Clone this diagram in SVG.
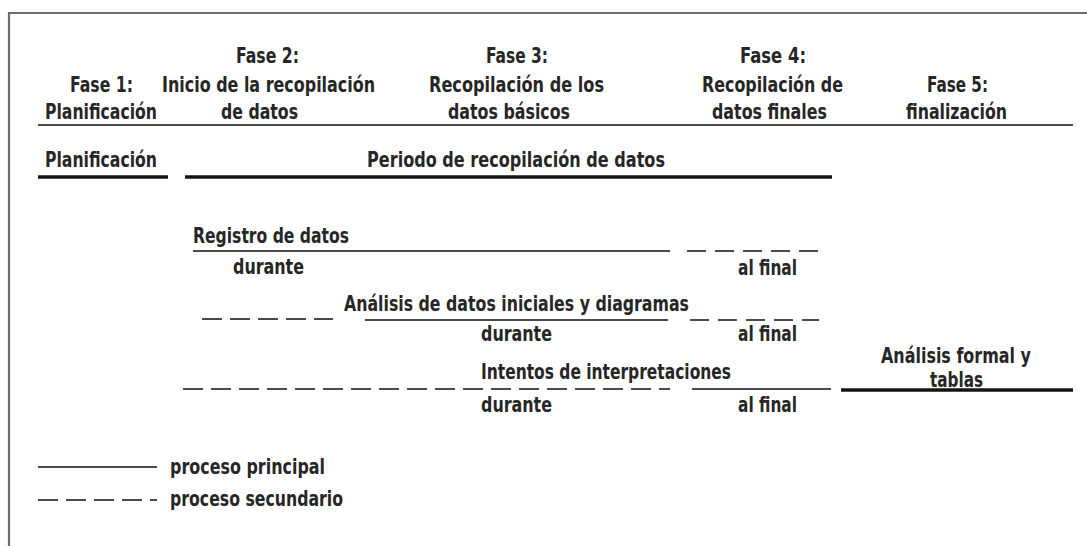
<svg xmlns="http://www.w3.org/2000/svg" width="1087" height="546" viewBox="0 0 1087 546">
<style>
text{font-family:"DejaVu Sans Condensed","Liberation Sans",sans-serif;font-size:22px;font-weight:bold;fill:#262626}
.thin{stroke:#4a4a4a;stroke-width:2;fill:none}
.dash{stroke:#4a4a4a;stroke-width:2;fill:none;stroke-dasharray:19 9}
.dash2{stroke:#4a4a4a;stroke-width:2;fill:none;stroke-dasharray:20 8}
.thick{stroke:#141414;stroke-width:3.5;fill:none}
.frame{stroke:#6e6e6e;stroke-width:2.2;fill:none}
</style>
<rect width="1087" height="546" fill="#ffffff"/>
<path class="frame" d="M9,546 V13 H1087"/>
<g id="header">
<g id="fase1"><text x="70" y="92" textLength="63" lengthAdjust="spacingAndGlyphs">Fase 1:</text><text x="45" y="119" textLength="112" lengthAdjust="spacingAndGlyphs">Planificación</text></g>
<g id="fase2"><text x="236" y="63" textLength="63" lengthAdjust="spacingAndGlyphs">Fase 2:</text><text x="162" y="92" textLength="213" lengthAdjust="spacingAndGlyphs">Inicio de la recopilación</text><text x="221" y="119" textLength="77" lengthAdjust="spacingAndGlyphs">de datos</text></g>
<g id="fase3"><text x="486" y="63" textLength="62" lengthAdjust="spacingAndGlyphs">Fase 3:</text><text x="429" y="92" textLength="175" lengthAdjust="spacingAndGlyphs">Recopilación de los</text><text x="448" y="119" textLength="122" lengthAdjust="spacingAndGlyphs">datos básicos</text></g>
<g id="fase4"><text x="740" y="63" textLength="66" lengthAdjust="spacingAndGlyphs">Fase 4:</text><text x="702" y="92" textLength="141" lengthAdjust="spacingAndGlyphs">Recopilación de</text><text x="712" y="119" textLength="115" lengthAdjust="spacingAndGlyphs">datos finales</text></g>
<g id="fase5"><text x="927" y="92" textLength="61" lengthAdjust="spacingAndGlyphs">Fase 5:</text><text x="906" y="119" textLength="101" lengthAdjust="spacingAndGlyphs">finalización</text></g>
</g>
<g id="planificacion"><text x="45" y="167" textLength="112" lengthAdjust="spacingAndGlyphs">Planificación</text></g>
<g id="periodo"><text x="367" y="167" textLength="298" lengthAdjust="spacingAndGlyphs">Periodo de recopilación de datos</text></g>
<g id="registro"><text x="193" y="243" textLength="156" lengthAdjust="spacingAndGlyphs">Registro de datos</text><text x="233" y="274" textLength="71" lengthAdjust="spacingAndGlyphs">durante</text><text x="738" y="275" textLength="59" lengthAdjust="spacingAndGlyphs">al final</text></g>
<g id="analisis"><text x="344" y="311" textLength="345" lengthAdjust="spacingAndGlyphs">Análisis de datos iniciales y diagramas</text><text x="481" y="341" textLength="71" lengthAdjust="spacingAndGlyphs">durante</text><text x="738" y="341" textLength="59" lengthAdjust="spacingAndGlyphs">al final</text></g>
<g id="intentos"><text x="481" y="379" textLength="250" lengthAdjust="spacingAndGlyphs">Intentos de interpretaciones</text><text x="481" y="412" textLength="71" lengthAdjust="spacingAndGlyphs">durante</text><text x="738" y="412" textLength="59" lengthAdjust="spacingAndGlyphs">al final</text></g>
<g id="formal"><text x="881" y="363" textLength="150" lengthAdjust="spacingAndGlyphs">Análisis formal y</text><text x="930" y="387" textLength="53" lengthAdjust="spacingAndGlyphs">tablas</text></g>
<g id="legend"><text x="170" y="474" textLength="155" lengthAdjust="spacingAndGlyphs">proceso principal</text><text x="170" y="506" textLength="173" lengthAdjust="spacingAndGlyphs">proceso secundario</text></g>
<g id="connectors">
<line class="thin" x1="38" y1="125" x2="1073" y2="125"/>
<line class="thick" x1="38" y1="177" x2="168" y2="177"/>
<line class="thick" x1="185" y1="177" x2="832" y2="177"/>
<line class="thin" x1="193" y1="251" x2="670" y2="251"/>
<line class="dash" x1="687" y1="251" x2="818" y2="251"/>
<line class="dash2" x1="202" y1="319" x2="333" y2="319"/>
<line class="thin" x1="365" y1="320" x2="668" y2="320"/>
<line class="dash" x1="690" y1="320" x2="819" y2="320"/>
<line class="dash2" x1="183" y1="389" x2="670" y2="389"/>
<line class="thin" x1="692" y1="389" x2="831" y2="389"/>
<line class="thick" x1="841" y1="390" x2="1073" y2="390"/>
<line class="thin" x1="38" y1="467" x2="157" y2="467"/>
<line class="dash2" x1="38" y1="500" x2="157" y2="500"/>
</g>
</svg>
